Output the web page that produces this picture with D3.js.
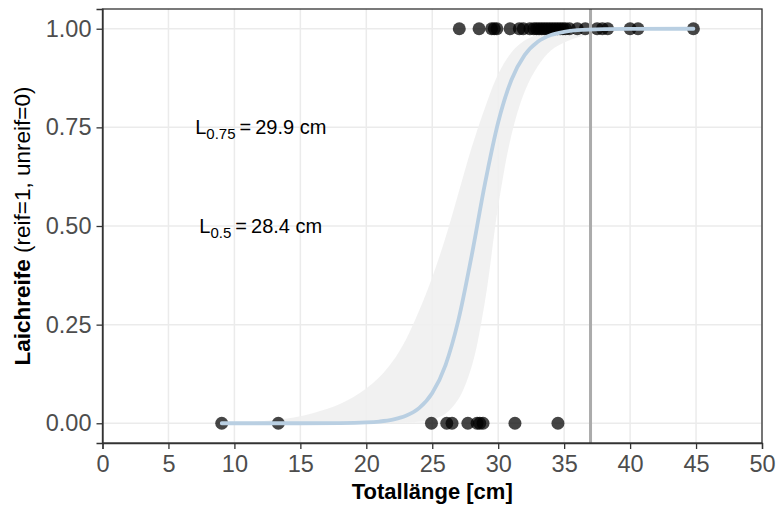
<!DOCTYPE html>
<html><head><meta charset="utf-8">
<script src="https://cdn.jsdelivr.net/npm/d3@7"></script>
<style>body{margin:0;background:#fff}svg{display:block}text{font-family:"Liberation Sans",Arial,sans-serif}</style>
</head><body><svg id="c" width="777" height="506"></svg>
<script>
// Data
const matureLengths = [27.05, 28.55, 29.5, 29.7, 29.9, 30.9, 31.6, 31.9, 32.4, 32.7, 32.9, 33.1, 33.3, 33.5, 33.7, 33.9, 34.1, 34.3, 34.5, 34.7, 34.9, 35.1, 35.4, 36.0, 36.6, 37.5, 37.9, 38.3, 40.0, 40.6, 44.8];
const immatureLengths = [9.04, 13.33, 24.94, 26.1, 26.5, 27.7, 28.4, 28.6, 28.85, 31.27, 34.53];
const fitX = [9.04, 12, 15, 18, 20, 21, 22, 23, 24, 25, 26, 27, 28, 29, 30, 31, 32, 33, 34, 35, 36, 38, 40, 44.8];
const fitP = [0, 0, 0.0001, 0.0005, 0.0021, 0.0044, 0.0091, 0.0188, 0.0383, 0.0766, 0.147, 0.264, 0.427, 0.608, 0.763, 0.870, 0.933, 0.967, 0.984, 0.992, 0.9962, 0.9991, 0.9998, 1];
const bandX = [9.04, 10, 11, 12, 13, 14, 15, 16, 17, 18, 19, 20, 21, 22, 23, 24, 25, 26, 27, 28, 29, 30, 31, 32, 33, 34, 35, 36, 37, 38, 40, 44.8];
const bandLow = [0, 0, 0, 0, 0, 0, 0, 0, 0, 0, 0, 0, 0.0003, 0.001, 0.002, 0.004, 0.009, 0.024, 0.062, 0.145, 0.31, 0.55, 0.73, 0.84, 0.905, 0.945, 0.965, 0.978, 0.986, 0.991, 0.997, 1];
const bandHigh = [0.001, 0.002, 0.003, 0.005, 0.008, 0.012, 0.018, 0.026, 0.036, 0.049, 0.066, 0.088, 0.117, 0.157, 0.212, 0.285, 0.37, 0.47, 0.585, 0.70, 0.80, 0.885, 0.94, 0.97, 0.985, 0.993, 0.997, 0.998, 0.999, 0.9995, 1, 1];
const refLine = 37;
const xTicks = [0, 5, 10, 15, 20, 25, 30, 35, 40, 45, 50];
const yTicks = [0, 0.25, 0.5, 0.75, 1];
const labels = [{x: 12, y: 0.75, sub: "0.75", val: "29.9 cm"}, {x: 12, y: 0.5, sub: "0.5", val: "28.4 cm"}];

const svg = d3.select("#c");
const L = 102.5, R = 762, T = 9, B = 443;
const x = d3.scaleLinear().domain([0, 50]).range([L, R]);
const y = d3.scaleLinear().domain([-0.05, 1.05]).range([B, T]);

// grid
const g = svg.append("g");
g.selectAll(".gx").data(xTicks).join("line").attr("x1", d => x(d)).attr("x2", d => x(d)).attr("y1", T).attr("y2", B).attr("stroke", "#EBEBEB").attr("stroke-width", 1.5);
g.selectAll(".gy").data(yTicks).join("line").attr("y1", d => y(d)).attr("y2", d => y(d)).attr("x1", L).attr("x2", R).attr("stroke", "#EBEBEB").attr("stroke-width", 1.5);

// ribbon
const band = bandX.map((v, i) => ({x: v, lo: bandLow[i], hi: bandHigh[i]}));
svg.append("path").datum(band)
  .attr("d", d3.area().x(d => x(d.x)).y0(d => y(d.lo)).y1(d => y(d.hi)).curve(d3.curveCatmullRom))
  .attr("fill", "#EFEFEF").attr("fill-opacity", 0.9);

// points
const pts = matureLengths.map(v => ({x: v, y: 1})).concat(immatureLengths.map(v => ({x: v, y: 0})));
svg.selectAll(".pt").data(pts).join("circle")
  .attr("cx", d => x(d.x)).attr("cy", d => y(d.y)).attr("r", 6.5)
  .attr("fill", "#000").attr("fill-opacity", 0.73);

// vertical line
svg.append("line").attr("x1", x(refLine)).attr("x2", x(refLine)).attr("y1", T).attr("y2", B)
  .attr("stroke", "#ABABAB").attr("stroke-width", 3);

// fitted curve
const fit = fitX.map((v, i) => ({x: v, p: fitP[i]}));
svg.append("path").datum(fit)
  .attr("d", d3.line().x(d => x(d.x)).y(d => y(d.p)).curve(d3.curveMonotoneX))
  .attr("fill", "none").attr("stroke", "#B9CFE2").attr("stroke-width", 3.8).attr("stroke-linecap", "round");

// labels
labels.forEach(l => {
  const t = svg.append("text").attr("x", x(l.x)).attr("y", y(l.y) + 7).attr("text-anchor", "middle")
    .attr("font-size", 20).attr("fill", "#000");
  t.append("tspan").text("L");
  t.append("tspan").attr("font-size", 15).attr("dy", 4.5).text(l.sub);
  t.append("tspan").attr("dy", -4.5).text("\u2009=\u2009" + l.val);
});

// panel border
svg.append("rect").attr("x", L).attr("y", T).attr("width", R - L).attr("height", B - T)
  .attr("fill", "none").attr("stroke", "#333").attr("stroke-width", 1.3);

// axes
const xa = svg.append("g").attr("transform", `translate(0,${B})`)
  .call(d3.axisBottom(x).tickValues(xTicks).tickSize(6).tickPadding(6).tickFormat(d3.format("d")));
const ya = svg.append("g").attr("transform", `translate(${L},0)`)
  .call(d3.axisLeft(y).tickValues(yTicks).tickSize(6).tickPadding(5).tickFormat(d3.format(".2f")));
[xa, ya].forEach(a => {
  a.select(".domain").attr("stroke", "#333").attr("stroke-width", 1.3);
  a.selectAll(".tick line").attr("stroke", "#333").attr("stroke-width", 1.3);
  a.selectAll(".tick text").attr("fill", "#4D4D4D").attr("font-size", 23.5).attr("font-family", "Liberation Sans, Arial, sans-serif");
});

// axis titles
svg.append("text").attr("x", (L + R) / 2).attr("y", 499).attr("text-anchor", "middle")
  .attr("font-size", 22).attr("font-weight", "bold").attr("fill", "#000").text("Totallänge [cm]");
const yt = svg.append("text").attr("transform", `translate(30,${(T + B) / 2}) rotate(-90)`).attr("text-anchor", "middle")
  .attr("font-size", 22.5).attr("fill", "#000");
yt.append("tspan").attr("font-weight", "bold").text("Laichreife");
yt.append("tspan").text(" (reif=1, unreif=0)");
</script></body></html>
